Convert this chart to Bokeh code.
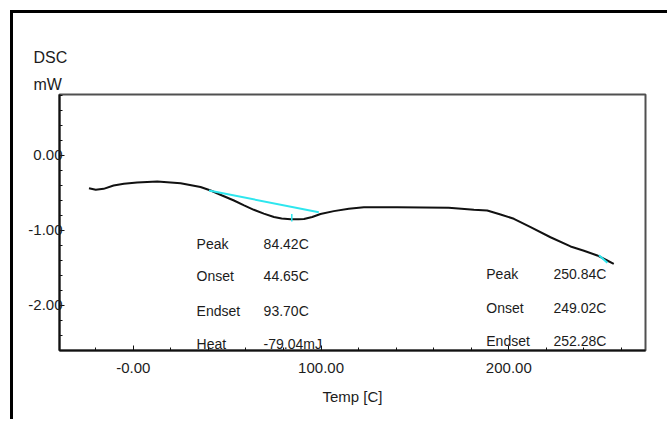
from bokeh.plotting import figure
from bokeh.models import Range1d, FixedTicker, Label, Title
from bokeh.embed import file_html
from bokeh.resources import INLINE

# DSC curve (Temp [C], DSC [mW])
temp = [-23.6, -20.0, -15.8, -10.5, -5.0, 2.0, 12.8, 25.2, 35.8, 41.2, 47.0, 53.6, 59.0,
        64.2, 69.5, 74.9, 79.0, 83.8, 88.0, 90.9, 95.3, 99.7, 106.8, 114.8, 122.8,
        140.6, 168.0, 181.4, 188.5, 195.6, 202.7, 211.6, 222.2, 232.9, 240.0, 247.1,
        252.4, 255.9]
dsc = [-0.436, -0.458, -0.445, -0.40, -0.378, -0.36, -0.347, -0.369, -0.42, -0.467, -0.53,
       -0.60, -0.665, -0.724, -0.775, -0.82, -0.84, -0.85, -0.85, -0.847, -0.82, -0.78,
       -0.742, -0.711, -0.689, -0.689, -0.698, -0.724, -0.733, -0.787, -0.844, -0.956,
       -1.09, -1.213, -1.27, -1.333, -1.40, -1.444]

# baselines of the analysed peaks
base1_t = [40.3, 98.8]
base1_v = [-0.467, -0.756]
peak1_t = [84.42, 84.42]
peak1_v = [-0.78, -0.88]
base2_t = [248.0, 252.5]
base2_v = [-1.33, -1.43]

# tick values / labels
x_ticks = [0, 100, 200]
x_tick_labels = ["-0.00", "100.00", "200.00"]
y_ticks = [0, -1, -2]
y_tick_labels = ["0.00", "-1.00", "-2.00"]

# annotation tables
left_names = ["Peak", "Onset", "Endset", "Heat"]
left_values = ["84.42C", "44.65C", "93.70C", "-79.04mJ"]
right_names = ["Peak", "Onset", "Endset"]
right_values = ["250.84C", "249.02C", "252.28C"]

FONT = "Liberation Sans"
TXT = "#1c1c1c"

p = figure(width=657, height=409, output_backend="svg", toolbar_location=None,
           x_range=Range1d(-39.3, 272.8), y_range=Range1d(-2.60, 0.813),
           min_border_left=46, min_border_top=81, min_border_right=25, min_border_bottom=72)
p.styles = {"border-left": "3px solid #000", "border-top": "3px solid #000",
            "margin-left": "10px", "margin-top": "10px"}
p.grid.visible = False
p.outline_line_color = "#505050"
p.outline_line_width = 2

xa = p.xaxis[0]
xa.ticker = FixedTicker(ticks=x_ticks, minor_ticks=list(range(-20, 261, 20)))
xa.major_label_overrides = dict(zip(x_ticks, x_tick_labels))
ya = p.yaxis[0]
ya.ticker = FixedTicker(ticks=y_ticks, minor_ticks=[round(-2.6 + 0.2 * i, 1) for i in range(18)])
ya.major_label_overrides = dict(zip(y_ticks, y_tick_labels))
for ax in (xa, ya):
    ax.axis_line_width = 2
    ax.axis_line_color = "#111"
    ax.major_tick_in = 5
    ax.major_tick_out = 0
    ax.minor_tick_in = 3
    ax.minor_tick_out = 0
    ax.major_tick_line_color = "#111"
    ax.minor_tick_line_color = "#111"
    ax.major_label_text_font = FONT
    ax.major_label_text_font_size = "15px"
    ax.major_label_text_color = TXT
xa.major_label_standoff = 12
ya.major_label_standoff = -3
xa.axis_label = "Temp [C]"
xa.axis_label_text_font = FONT
xa.axis_label_text_font_size = "15px"
xa.axis_label_text_font_style = "normal"
xa.axis_label_text_color = TXT
xa.axis_label_standoff = 12

p.line(temp, dsc, line_color="#111111", line_width=2)
p.line(base1_t, base1_v, line_color="#2ee6ee", line_width=2)
p.line(peak1_t, peak1_v, line_color="#2ee6ee", line_width=1.5)
p.line(base2_t, base2_v, line_color="#2ee6ee", line_width=2)

def add_text(x, y, s):
    p.add_layout(Label(x=x, y=y, text=s, text_font=FONT, text_font_size="14px",
                       text_color=TXT, text_baseline="middle", text_align="left"))

left_rows = [-1.18, -1.61, -2.07, -2.51]
for name, val, yy in zip(left_names, left_values, left_rows):
    add_text(33.7, yy, name)
    add_text(69.4, yy, val)
right_rows = [-1.578, -2.04, -2.47]
for name, val, yy in zip(right_names, right_values, right_rows):
    add_text(188.0, yy, name)
    add_text(223.8, yy, val)

# y-axis title in the top-left corner
for s, sd in (("mW", 4), ("DSC", 12)):
    p.add_layout(Title(text=s, align="left", offset=-26, text_font=FONT,
                       text_font_size="16px", text_font_style="normal",
                       text_color=TXT, standoff=sd), "above")

open("out.html", "w").write(file_html(p, INLINE))
